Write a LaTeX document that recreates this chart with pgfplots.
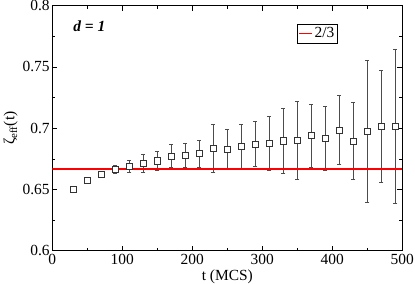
\documentclass[border=0pt]{standalone}
\usepackage{pgfplots}
\pgfplotsset{compat=1.18}
\usepackage{fontspec}
\setmainfont{Liberation Serif}
\begin{document}
\fontsize{15.5pt}{17pt}\selectfont
\begin{tikzpicture}
\begin{axis}[
  scale only axis,
  width=350bp, height=245bp,
  xmin=0, xmax=500, ymin=0.6, ymax=0.8,
  xtick={0,100,...,500},
  ytick={0.6,0.65,0.7,0.75,0.8},
  yticklabels={0.6,0.65,0.7,0.75,0.8},
  minor xtick={50,150,...,450},
  minor ytick={0.625,0.675,0.725,0.775},
  tick align=inside,
  major tick length=5pt,
  minor tick length=3pt,
  tick style={black, line width=0.5pt},
  axis line style={line width=0.8pt},
  /pgf/number format/assume math mode=true,
  ticklabel style={font=\fontsize{15.5pt}{17pt}\selectfont},
  yticklabel style={inner xsep=2.5pt},
  xticklabel style={inner ysep=3pt},
  xlabel={t (MCS)},
  ylabel={ζ\textsubscript{eff}(t)},
  label style={font=\fontsize{15.5pt}{17pt}\selectfont},
  xlabel style={yshift=2.5pt},
  ylabel style={yshift=-3pt},
  legend style={at={(0.70,0.925)}, anchor=north west, line width=0.6pt,
    font=\fontsize{15.5pt}{17pt}\selectfont, inner sep=1pt, row sep=0pt},
  legend cell align=left,
  legend image code/.code={\draw[#1] (0cm,0cm) -- (0.45cm,0cm);},
  clip=true,
]
\addplot[
  forget plot,
  only marks,
  mark=square*,
  mark size=3.1pt,
  mark options={fill=white, draw=black!80, line width=0.5pt},
  error bars/.cd,
    y dir=both, y explicit,
    error bar style={black!70, line width=0.6pt},
    error mark options={black!70, line width=0.6pt, mark size=2pt, rotate=90},
] table[x=t, y=z, y error=e] {
t z e
30 0.6500 0.0008
50 0.6575 0.0008
70 0.6624 0.0012
90 0.6667 0.0034
110 0.6689 0.0047
130 0.6713 0.0076
150 0.6735 0.0076
170 0.6773 0.0096
190 0.6780 0.0099
210 0.6793 0.0109
230 0.6837 0.0195
250 0.6828 0.0164
270 0.6850 0.0185
290 0.6871 0.0185
310 0.6880 0.0221
330 0.6897 0.0265
350 0.6904 0.0319
370 0.6940 0.0259
390 0.6917 0.0263
410 0.6986 0.0282
430 0.6896 0.0313
450 0.6977 0.0580
470 0.7017 0.0458
490 0.7017 0.0630
};
\addplot[draw=red, color=red, line width=1.1pt, mark=none,
  legend image post style={draw=red, line width=1.3pt}] coordinates {(0,0.66667) (500,0.66667)};
\addlegendentry{2/3}
\node[anchor=west, font=\fontsize{15.5pt}{17pt}\selectfont\bfseries\itshape] at (rel axis cs:0.045,0.915) {d = 1};
\end{axis}
\pgfresetboundingbox
\useasboundingbox ([shift={(-52.3bp,-33.3bp)}]current axis.south west) rectangle ([shift={(12.7bp,5.7bp)}]current axis.north east);
\end{tikzpicture}
\end{document}
